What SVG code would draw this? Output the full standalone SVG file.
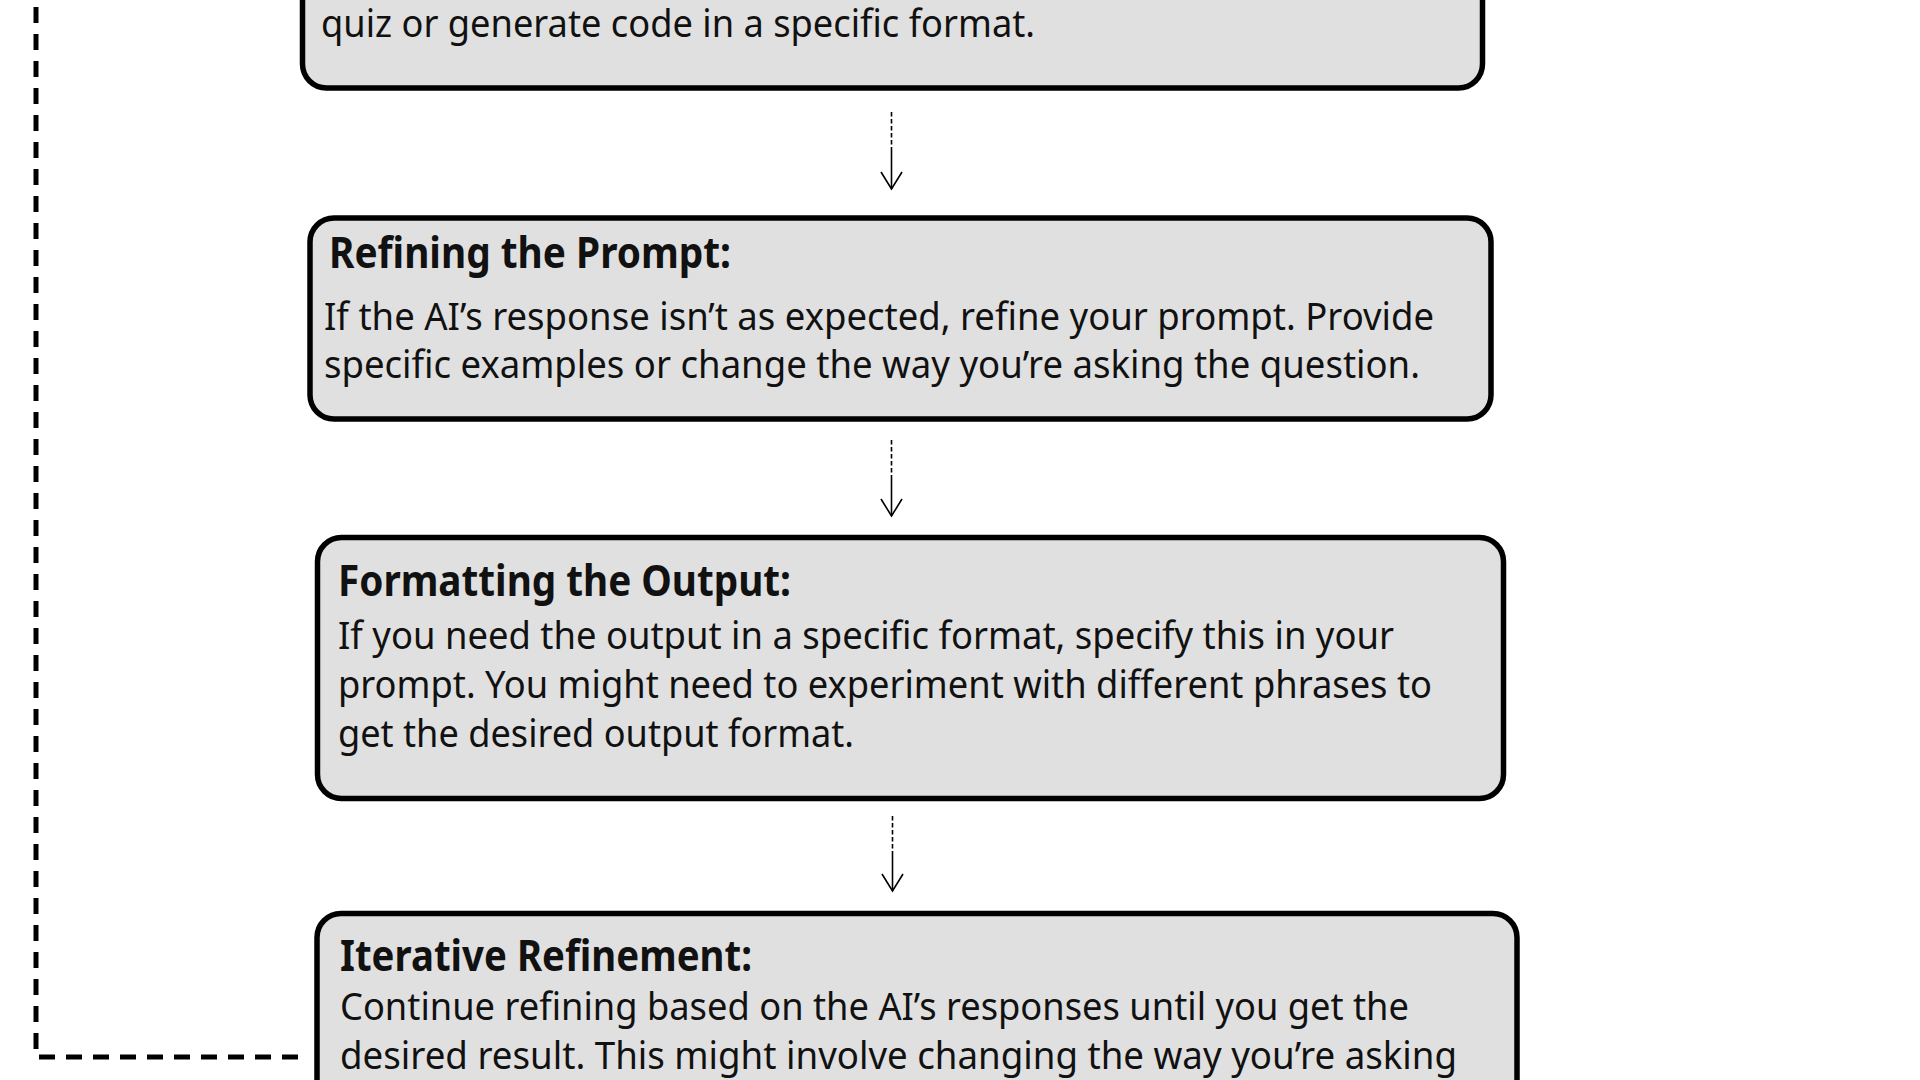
<svg xmlns="http://www.w3.org/2000/svg" width="1920" height="1080" viewBox="0 0 1920 1080">
  <style>
    .box { fill: #e0e0e0; stroke: #000; stroke-width: 5.5; }
    .title { font-family: "Noto Sans", "Liberation Sans", sans-serif; font-weight: 700; font-size: 43px; fill: #111; }
    .body { font-family: "Noto Sans", "Liberation Sans", sans-serif; font-weight: 400; font-size: 39px; fill: #111; }
    .dash { fill: none; stroke: #000; stroke-width: 1.6; stroke-dasharray: 4.5 2.5; }
    .solid { fill: none; stroke: #000; stroke-width: 1.6; }
    .loop { fill: none; stroke: #000; stroke-width: 5; stroke-dasharray: 16 11; }
  </style>
  <defs>
    <marker id="openArrow" markerUnits="userSpaceOnUse" markerWidth="30" markerHeight="30" viewBox="-20 -15 30 30" refX="0" refY="0" orient="auto">
      <path d="M -17 -10.5 L 0 0 L -17 10.5" fill="none" stroke="#000" stroke-width="1.6"/>
    </marker>
  </defs>
  <rect width="1920" height="1080" fill="#fff"/>

  <g id="connectors">
    <path id="feedback-loop" class="loop" d="M 298 1057 H 36 V -20"/>
    <g id="arrow-1">
      <path class="dash" d="M 891.5 112 V 147"/>
      <path class="solid" d="M 891.5 147 V 189" marker-end="url(#openArrow)"/>
    </g>
    <g id="arrow-2">
      <path class="dash" d="M 891.5 440 V 477"/>
      <path class="solid" d="M 891.5 477 V 516" marker-end="url(#openArrow)"/>
    </g>
    <g id="arrow-3">
      <path class="dash" d="M 892.5 816 V 853"/>
      <path class="solid" d="M 892.5 853 V 891" marker-end="url(#openArrow)"/>
    </g>
  </g>

  <g id="node-1">
    <rect class="box" x="302.5" y="-60" width="1180" height="148" rx="24"/>
    <text class="body" x="321" y="37" textLength="714" lengthAdjust="spacingAndGlyphs">quiz or generate code in a specific format.</text>
  </g>

  <g id="node-2">
    <rect class="box" x="310" y="218" width="1181" height="201" rx="24"/>
    <text class="title" x="329" y="268" textLength="402" lengthAdjust="spacingAndGlyphs">Refining the Prompt:</text>
    <text class="body" x="324" y="330" textLength="1110" lengthAdjust="spacingAndGlyphs">If the AI’s response isn’t as expected, refine your prompt. Provide</text>
    <text class="body" x="324" y="378" textLength="1096" lengthAdjust="spacingAndGlyphs">specific examples or change the way you’re asking the question.</text>
  </g>

  <g id="node-3">
    <rect class="box" x="317.5" y="537.5" width="1186" height="261" rx="24"/>
    <text class="title" x="338" y="596" textLength="453" lengthAdjust="spacingAndGlyphs">Formatting the Output:</text>
    <text class="body" x="338" y="649" textLength="1056" lengthAdjust="spacingAndGlyphs">If you need the output in a specific format, specify this in your</text>
    <text class="body" x="338" y="698" textLength="1094" lengthAdjust="spacingAndGlyphs">prompt. You might need to experiment with different phrases to</text>
    <text class="body" x="338" y="747" textLength="516" lengthAdjust="spacingAndGlyphs">get the desired output format.</text>
  </g>

  <g id="node-4">
    <rect class="box" x="317" y="913.5" width="1200" height="250" rx="24"/>
    <text class="title" x="340" y="971" textLength="412" lengthAdjust="spacingAndGlyphs">Iterative Refinement:</text>
    <text class="body" x="340" y="1020" textLength="1069" lengthAdjust="spacingAndGlyphs">Continue refining based on the AI’s responses until you get the</text>
    <text class="body" x="340" y="1069" textLength="1117" lengthAdjust="spacingAndGlyphs">desired result. This might involve changing the way you’re asking</text>
  </g>
</svg>
